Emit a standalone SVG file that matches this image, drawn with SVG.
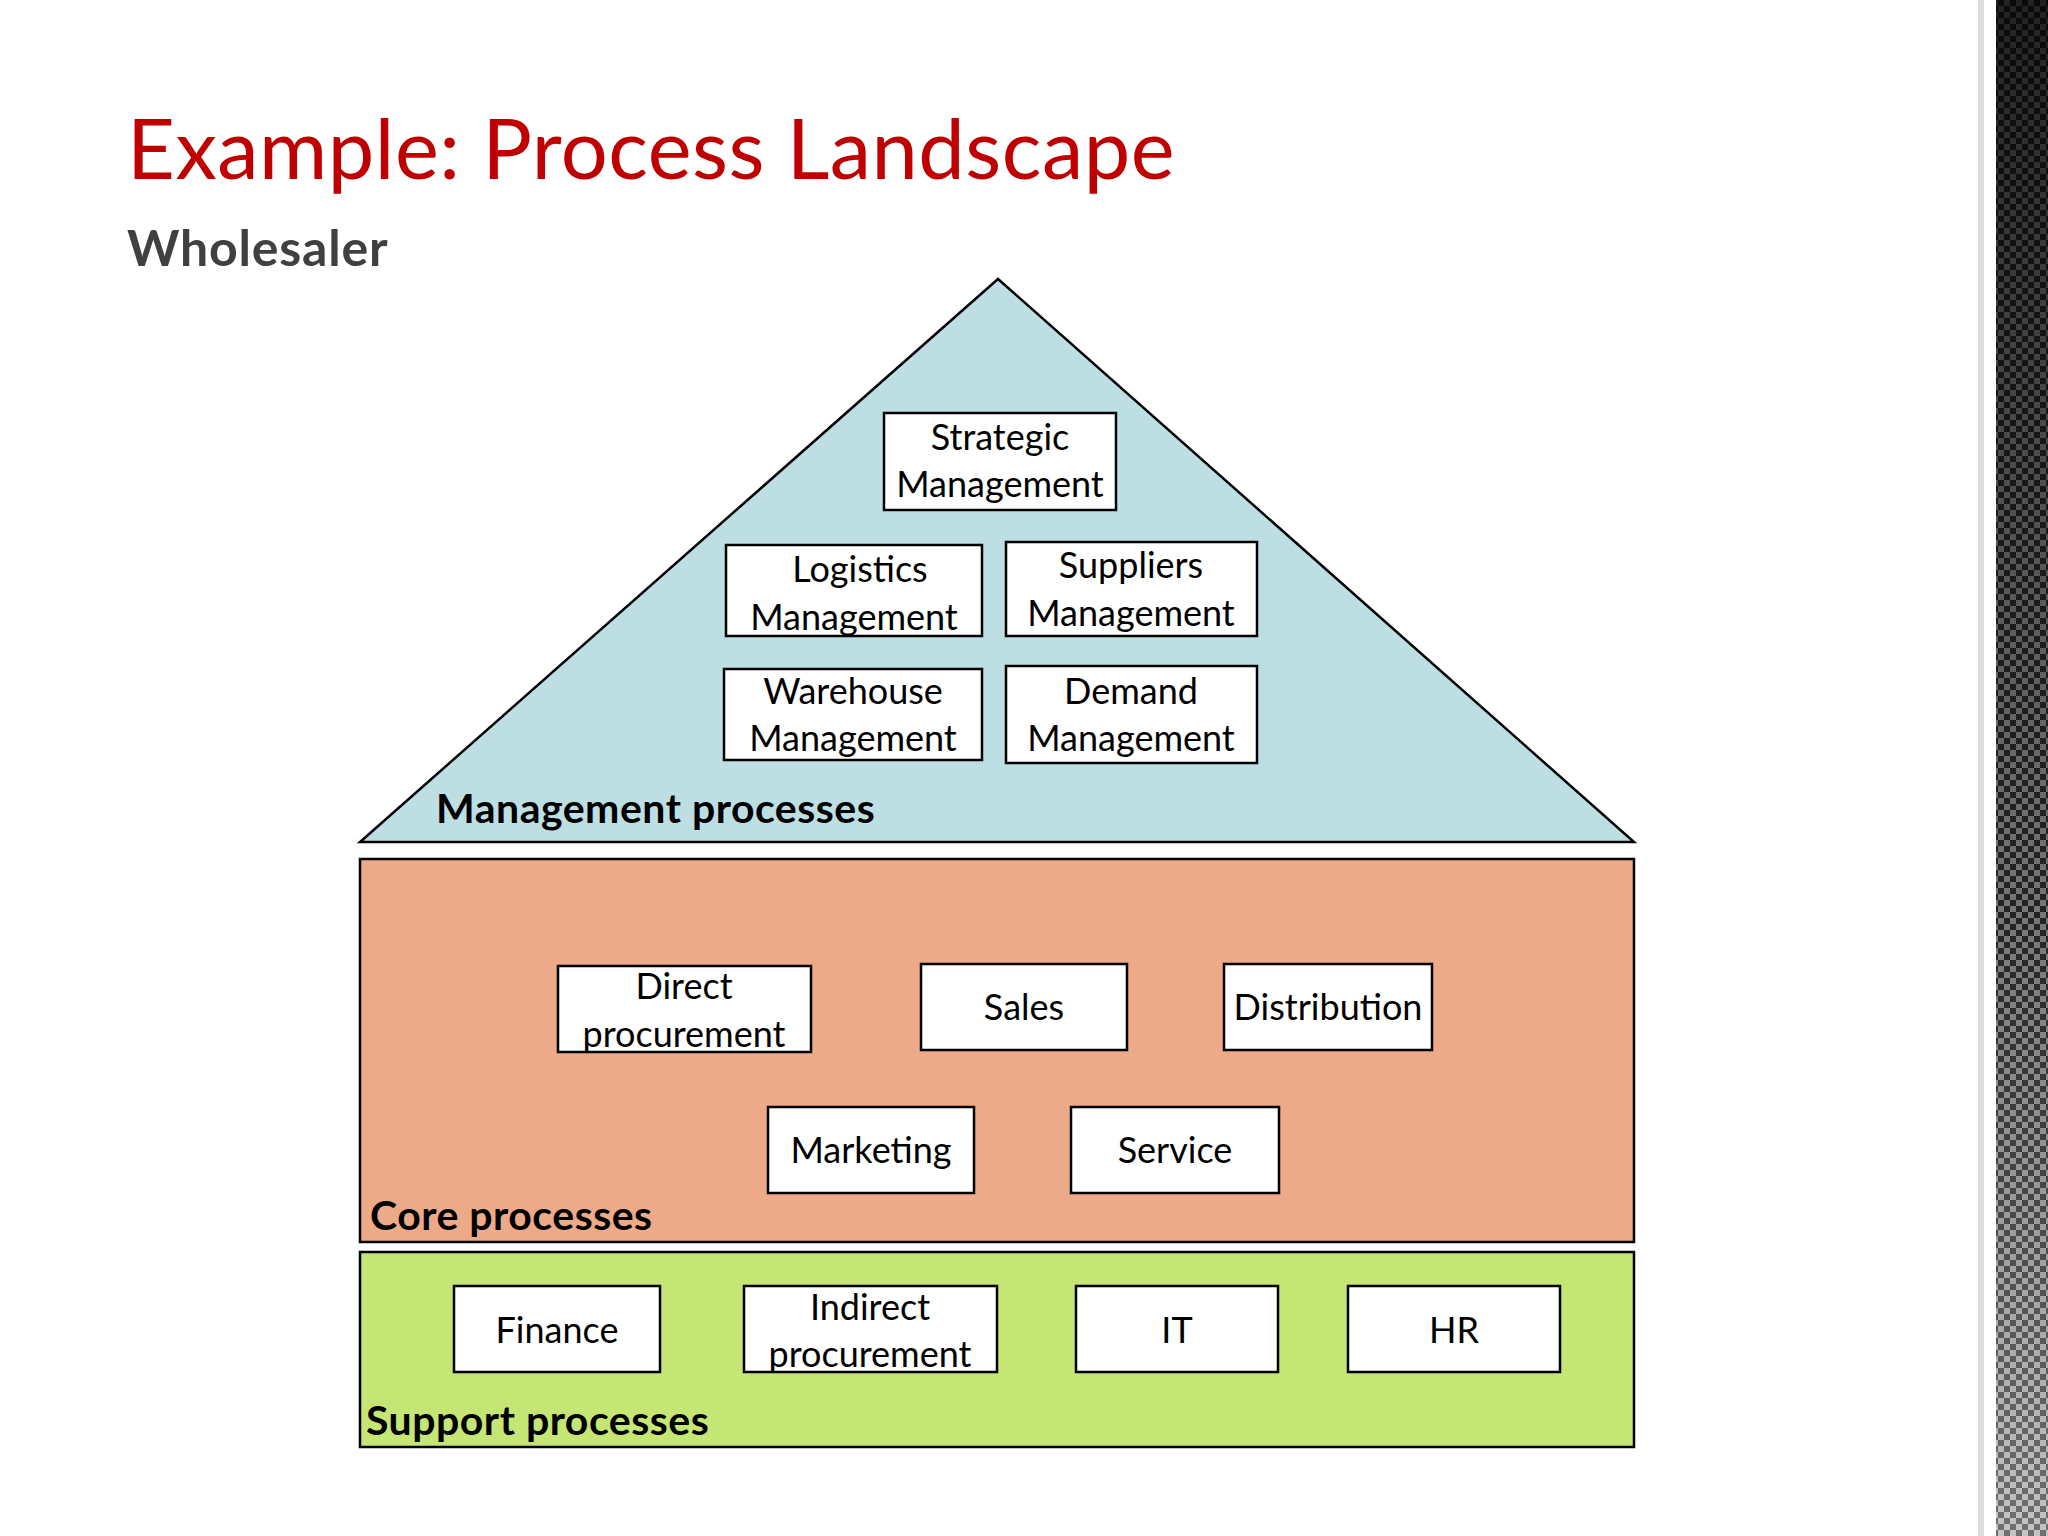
<svg xmlns="http://www.w3.org/2000/svg" width="2048" height="1536" viewBox="0 0 2048 1536">
<defs>
<style>
.b{fill:#fff;stroke:#000;stroke-width:2.5}
.t{font-family:Lato,"Open Sans",sans-serif;font-size:36px;fill:#000;text-anchor:middle}
.l{font-family:Lato,"Open Sans",sans-serif;font-size:41px;font-weight:bold;fill:#000;letter-spacing:0.5px}
</style>
<pattern id="chk" width="12" height="12" patternUnits="userSpaceOnUse">
<rect width="12" height="12" fill="#333"/><rect width="6" height="6" fill="#aaa"/><rect x="6" y="6" width="6" height="6" fill="#aaa"/>
</pattern>
<linearGradient id="fade" x1="0" x2="0" y1="0" y2="1"><stop offset="0" stop-color="#000" stop-opacity="0.8"/><stop offset="0.6" stop-color="#000" stop-opacity="0.3"/><stop offset="1" stop-color="#fff" stop-opacity="0.3"/></linearGradient>
</defs>
<rect width="2048" height="1536" fill="#fff"/>
<rect x="1978" y="0" width="6" height="1536" fill="#ddd"/>
<rect x="1996" y="0" width="52" height="1536" fill="url(#chk)"/>
<rect x="1996" y="0" width="52" height="1536" fill="url(#fade)"/>
<text x="127" y="179" font-family="Lato,'Open Sans',sans-serif" font-size="83" fill="#C00000" letter-spacing="0.5">Example: Process Landscape</text>
<text x="127" y="266" font-family="Lato,'Open Sans',sans-serif" font-size="50" font-weight="bold" fill="#404040" letter-spacing="0.8">Wholesaler</text>
<g id="management">
<polygon points="998,279 360,842 1634,842" fill="#BDDFE3" stroke="#000" stroke-width="2.5"/>
<text class="l" x="436" y="823">Management processes</text>
</g>
<g id="strategic"><rect class="b" x="884" y="413" width="232" height="97"/><text class="t" x="1000" y="450">Strategic</text><text class="t" x="1000" y="497">Management</text></g>
<g id="logistics"><rect class="b" x="726" y="545" width="256" height="91"/><text class="t" x="860" y="582">Logistics</text><text class="t" x="854" y="630">Management</text></g>
<g id="suppliers"><rect class="b" x="1006" y="542" width="251" height="94"/><text class="t" x="1131" y="578">Suppliers</text><text class="t" x="1131" y="626">Management</text></g>
<g id="warehouse"><rect class="b" x="724" y="669" width="258" height="91"/><text class="t" x="853" y="704">Warehouse</text><text class="t" x="853" y="751">Management</text></g>
<g id="demand"><rect class="b" x="1006" y="666" width="251" height="97"/><text class="t" x="1131" y="704">Demand</text><text class="t" x="1131" y="751">Management</text></g>
<g id="core">
<rect x="360" y="859" width="1274" height="383" fill="#ECAA88" stroke="#000" stroke-width="2.5"/>
<text class="l" x="370" y="1230">Core processes</text>
</g>
<g id="direct"><rect class="b" x="558" y="966" width="253" height="86"/><text class="t" x="684" y="999">Direct</text><text class="t" x="684" y="1047">procurement</text></g>
<g id="sales"><rect class="b" x="921" y="964" width="206" height="86"/><text class="t" x="1024" y="1020">Sales</text></g>
<g id="distribution"><rect class="b" x="1224" y="964" width="208" height="86"/><text class="t" x="1328" y="1020">Distribution</text></g>
<g id="marketing"><rect class="b" x="768" y="1107" width="206" height="86"/><text class="t" x="871" y="1163">Marketing</text></g>
<g id="service"><rect class="b" x="1071" y="1107" width="208" height="86"/><text class="t" x="1175" y="1163">Service</text></g>
<g id="support">
<rect x="360" y="1252" width="1274" height="195" fill="#C5E574" stroke="#000" stroke-width="2.5"/>
<text class="l" x="366" y="1435">Support processes</text>
</g>
<g id="finance"><rect class="b" x="454" y="1286" width="206" height="86"/><text class="t" x="557" y="1343">Finance</text></g>
<g id="indirect"><rect class="b" x="744" y="1286" width="253" height="86"/><text class="t" x="870" y="1320">Indirect</text><text class="t" x="870" y="1367">procurement</text></g>
<g id="it"><rect class="b" x="1076" y="1286" width="202" height="86"/><text class="t" x="1177" y="1343">IT</text></g>
<g id="hr"><rect class="b" x="1348" y="1286" width="212" height="86"/><text class="t" x="1454" y="1343">HR</text></g>
<g id="connectors"/>
</svg>
